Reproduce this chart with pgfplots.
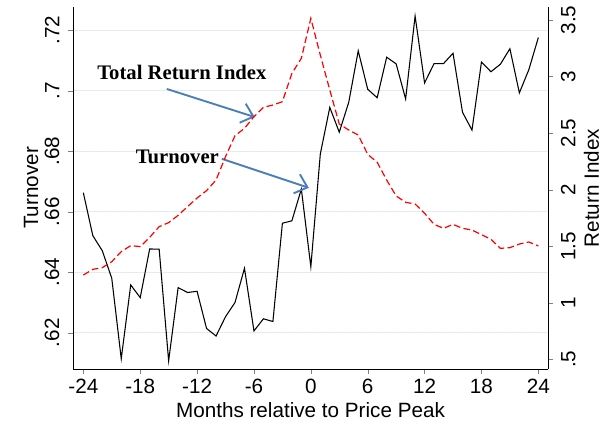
\documentclass[border=0pt]{standalone}
\usepackage{fontspec}
\setmainfont{Liberation Sans}
\newfontfamily\timesbf{Liberation Serif}
\usepackage{pgfplots}
\usepackage{pgfplotstable}
\pgfplotsset{compat=1.18}
\usetikzlibrary{arrows.meta}
\definecolor{gridc}{HTML}{E3EDF0}
\definecolor{arrowc}{HTML}{4A7EBB}

\pgfplotstableread{
m turn ret
-24 .6663 1.245
-23 .6521 1.295
-22 .6471 1.310
-21 .6380 1.363
-20 .6114 1.452
-19 .6358 1.505
-18 .6316 1.496
-17 .6477 1.578
-16 .6476 1.673
-15 .6107 1.708
-14 .6349 1.773
-13 .6333 1.850
-12 .6337 1.926
-11 .6214 1.991
-10 .6189 2.085
-9 .6253 2.292
-8 .6300 2.477
-7 .6413 2.542
-6 .6206 2.645
-5 .6246 2.728
-4 .6237 2.748
-3 .6562 2.778
-2 .6570 3.028
-1 .6675 3.161
0 .6418 3.515
1 .6791 3.19
2 .6945 2.881
3 .6863 2.580
4 .6962 2.527
5 .7132 2.483
6 .7005 2.312
7 .6977 2.242
8 .7111 2.085
9 .7089 1.944
10 .6973 1.888
11 .7247 1.873
12 .7026 1.791
13 .7090 1.693
14 .7090 1.658
15 .7124 1.693
16 .6929 1.658
17 .6870 1.643
18 .7095 1.602
19 .7063 1.561
20 .7088 1.481
21 .7139 1.487
22 .6993 1.519
23 .7070 1.537
24 .7176 1.502
}\datatable

\pgfplotsset{
  every tick label/.append style={font=\fontsize{15.5}{18}\selectfont},
  every axis label/.append style={font=\fontsize{15.5}{18}\selectfont},
}

\begin{document}
\begin{tikzpicture}[x=1pt,y=1pt]
\useasboundingbox (-54.75,-45) rectangle (400.5,276.75);
\begin{axis}[
  at={(0,0)}, anchor=south west,
  scale only axis, width=356.25pt, height=271.5pt,
  xmin=-25.09, xmax=25.02,
  ymin=0.608, ymax=0.7277,
  axis x line*=bottom, axis y line*=left,
  tick align=outside, major tick length=3.75pt,
  xtick={-24,-18,-12,-6,0,6,12,18,24},
  xticklabels={-24,-18,-12,-6,0,6,12,18,24},
  ytick={0.62,0.64,0.66,0.68,0.70,0.72},
  yticklabels={.62,.64,.66,.68,.7,.72},
  yticklabel style={rotate=90, anchor=south, yshift=3pt},
  ymajorgrids, major grid style={color=gridc, line width=0.8pt},
  xlabel={Months relative to Price Peak},
  ylabel={Turnover},
  ylabel style={at={(axis description cs:-0.0884,0.5)}, anchor=center},
  axis line style={line width=0.7pt},
  clip=false,
]
\addplot[black, line width=0.8pt] table[x=m, y=turn] {\datatable};
\node[font=\timesbf\bfseries\fontsize{15.5}{18}\selectfont] at (axis cs:-13.6,0.7059) {Total Return Index};
\node[font=\timesbf\bfseries\fontsize{15.5}{18}\selectfont] at (axis cs:-14.08,0.6781) {Turnover};
\draw[arrowc, line width=1.4pt, -{Straight Barb[length=8.5pt,width=15pt]}] (axis cs:-15.19,0.7006) -- (axis cs:-5.91,0.6913);
\draw[arrowc, line width=1.4pt, -{Straight Barb[length=8.5pt,width=15pt]}] (axis cs:-9.39,0.6775) -- (axis cs:-0.21,0.6679);
\end{axis}
\begin{axis}[
  at={(0,0)}, anchor=south west,
  scale only axis, width=356.25pt, height=271.5pt,
  xmin=-25.09, xmax=25.02,
  ymin=0.414, ymax=3.615,
  axis x line=none, axis y line*=right,
  tick align=outside, major tick length=3.75pt,
  ytick={0.5,1,1.5,2,2.5,3,3.5},
  yticklabels={.5,1,1.5,2,2.5,3,3.5},
  yticklabel style={rotate=90, anchor=north, yshift=-2.5pt},
  ylabel={Return Index},
  ylabel style={at={(axis description cs:1.0916,0.5)}, anchor=center},
  axis line style={line width=0.7pt},
  clip=false,
]
\addplot[red, line width=0.9pt, dash pattern=on 5pt off 2.5pt] table[x=m, y=ret] {\datatable};
\end{axis}
\end{tikzpicture}
\end{document}
